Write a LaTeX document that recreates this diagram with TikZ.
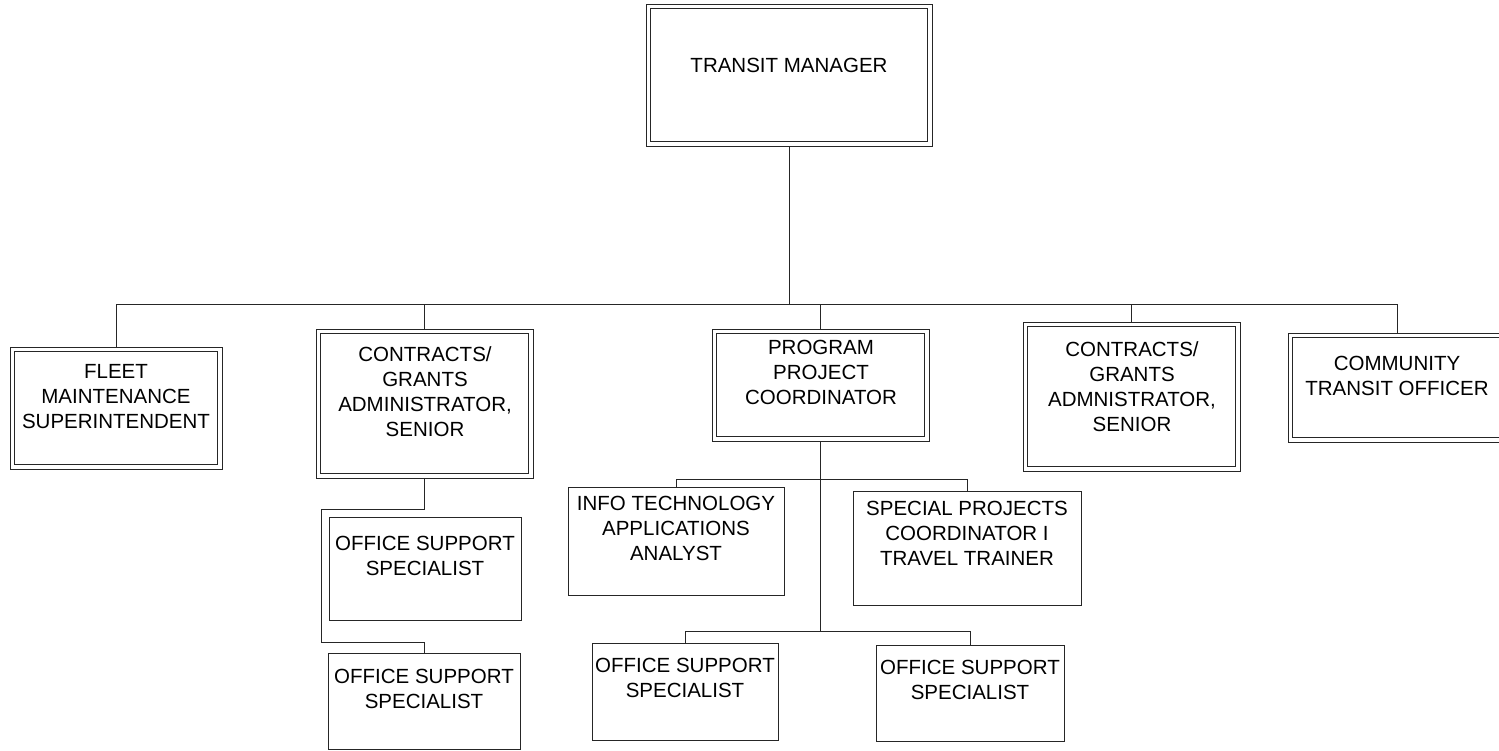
\documentclass[tikz,border=0pt]{standalone}
\usepackage{fontspec}
\setmainfont{Liberation Sans}
\begin{document}
\begin{tikzpicture}[x=1pt,y=-1pt,
  ln/.style={draw=black!85, line width=0.9pt},
  box/.style={ln, inner sep=0pt, outer sep=0pt, anchor=north west},
  txt/.style={inner sep=0pt, anchor=north, align=center,
    font=\fontsize{20.5pt}{25pt}\selectfont}]
\useasboundingbox (0,0) rectangle (1499,750);
\clip (0,0) rectangle (1499,750);
% double boxes
\node[box, minimum width=286pt, minimum height=142pt] (tm)    at (646,4) {};
\node[box, minimum width=212pt, minimum height=122pt] (fleet) at (10,347) {};
\node[box, minimum width=217pt, minimum height=149pt] (cgl)   at (316,329) {};
\node[box, minimum width=217pt, minimum height=112pt] (ppc)   at (712,329) {};
\node[box, minimum width=217pt, minimum height=149pt] (cgr)   at (1023,322) {};
\node[box, minimum width=240pt, minimum height=109pt] (cto)   at (1288,333) {};
\foreach \n in {tm,fleet,cgl,ppc,cgr,cto}
  \draw[ln] ([shift={(4.5pt,4.5pt)}]\n.south west) rectangle ([shift={(-4.5pt,-4.5pt)}]\n.north east);
% single boxes
\node[box, minimum width=192pt, minimum height=103pt] (os1) at (329,517) {};
\node[box, minimum width=192pt, minimum height=96pt]  (os2) at (328,653) {};
\node[box, minimum width=216pt, minimum height=108pt] (it)  at (568,487) {};
\node[box, minimum width=228pt, minimum height=114pt] (sp)  at (853,491) {};
\node[box, minimum width=186pt, minimum height=97pt]  (os3) at (592,643) {};
\node[box, minimum width=188pt, minimum height=96pt]  (os4) at (876,645) {};
% texts
\node[txt] (ttm) at (789,57.5) {TRANSIT MANAGER};
\node[txt] (tfleet) at (116,364) {FLEET\\MAINTENANCE\\SUPERINTENDENT};
\node[txt] (tcgl) at (425,346) {CONTRACTS/\\GRANTS\\ADMINISTRATOR,\\SENIOR};
\node[txt] (tppc) at (821,340) {PROGRAM\\PROJECT\\COORDINATOR};
\node[txt] (tcgr) at (1132,341) {CONTRACTS/\\GRANTS\\ADMNISTRATOR,\\SENIOR};
\node[txt] (tcto) at (1397,356) {COMMUNITY\\TRANSIT OFFICER};
\node[txt] (tos1) at (425,536) {OFFICE SUPPORT\\SPECIALIST};
\node[txt] (tos2) at (424,669) {OFFICE SUPPORT\\SPECIALIST};
\node[txt] (tit) at (676,496) {INFO TECHNOLOGY\\APPLICATIONS\\ANALYST};
\node[txt] (tsp) at (967,501) {SPECIAL PROJECTS\\COORDINATOR I\\TRAVEL TRAINER};
\node[txt] (tos3) at (685,658) {OFFICE SUPPORT\\SPECIALIST};
\node[txt] (tos4) at (970,660) {OFFICE SUPPORT\\SPECIALIST};
% connectors
\coordinate (bus) at (0,304);
\draw[ln] (tm.south) -- (tm.south |- bus);
\draw[ln] (fleet.north) |- (tm.south |- bus);
\draw[ln] (cto.north -| 1397,0) |- (tm.south |- bus);
\draw[ln] (cgl.north) -- (cgl.north |- bus);
\draw[ln] (ppc.north) -- (ppc.north |- bus);
\draw[ln] (cgr.north) -- (cgr.north |- bus);
% left chain
\coordinate (lj) at (321,509);
\coordinate (lk) at (321,642);
\draw[ln] (cgl.south) |- (lj) -- (lk) -| (os2.north);
% program branch
\coordinate (b1) at (0,479);
\coordinate (b2) at (0,631);
\draw[ln] (ppc.south) -- (ppc.south |- b2);
\draw[ln] (it.north) |- (ppc.south |- b1);
\draw[ln] (sp.north) |- (ppc.south |- b1);
\draw[ln] (os3.north) |- (ppc.south |- b2);
\draw[ln] (os4.north) |- (ppc.south |- b2);
\end{tikzpicture}
\end{document}
